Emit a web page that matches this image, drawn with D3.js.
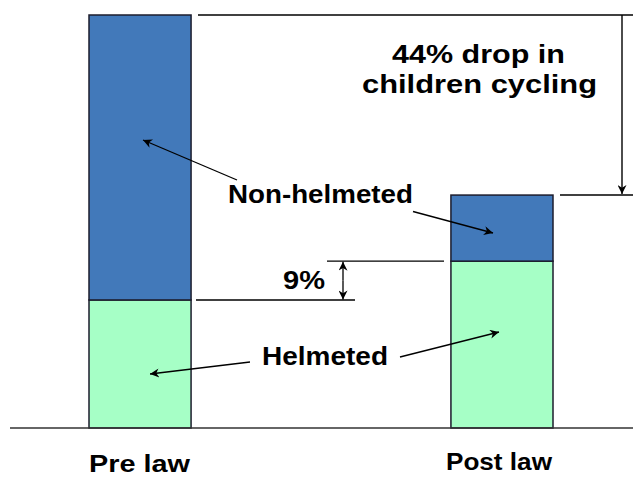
<!DOCTYPE html>
<html><head><meta charset="utf-8">
<script src="https://cdn.jsdelivr.net/npm/d3@7"></script>
<style>html,body{margin:0;padding:0;background:#fff;overflow:hidden}</style>
</head><body>
<svg id="c" width="633" height="477"></svg>
<script>
const categories = ["Pre law", "Post law"];
const helmeted = [31.0, 40.4];
const nonHelmeted = [69.0, 16.0];
const dropLabel = ["44% drop in", "children cycling"];
const diffLabel = "9%";

const svg = d3.select("#c");
const W = 633, H = 477;
const x = d3.scaleBand().domain(categories).range([89, 553]).paddingInner(0.718).paddingOuter(0);
const y = d3.scaleLinear().domain([0, 100]).range([428, 15]);

const defs = svg.append("defs");
defs.append("marker").attr("id","ah").attr("viewBox","0 0 10 10").attr("refX",10).attr("refY",5)
  .attr("markerWidth",11).attr("markerHeight",9).attr("markerUnits","userSpaceOnUse").attr("orient","auto")
  .append("path").attr("d","M0,0 L10,5 L0,10 L3,5 Z").attr("fill","#000");

const blue = "#4279ba", green = "#a6ffc6", edge = "#1c1c2c";

// stacked bars
const rows = categories.map((c,i)=>({c, h: helmeted[i], n: nonHelmeted[i]}));
const g = svg.append("g");
g.selectAll("rect.h").data(rows).join("rect").attr("class","h")
  .attr("x", d=>x(d.c)).attr("width", x.bandwidth())
  .attr("y", d=>y(d.h)).attr("height", d=>y(0)-y(d.h))
  .attr("fill", green).attr("stroke", edge).attr("stroke-width",1.5);
g.selectAll("rect.n").data(rows).join("rect").attr("class","n")
  .attr("x", d=>x(d.c)).attr("width", x.bandwidth())
  .attr("y", d=>y(d.h+d.n)).attr("height", d=>y(d.h)-y(d.h+d.n))
  .attr("fill", blue).attr("stroke", edge).attr("stroke-width",1.5);

// baseline
svg.append("line").attr("x1",10).attr("x2",W).attr("y1",y(0)).attr("y2",y(0))
  .attr("stroke","#333").attr("stroke-width",1.5);

// category labels
const font = "'Liberation Sans', Arial, sans-serif";
function txt(s, cx, by, len, size) {
  svg.append("text").attr("x", cx).attr("y", by).attr("text-anchor","middle")
    .attr("font-family", font).attr("font-weight","bold").attr("font-size", size||25)
    .attr("textLength", len).attr("lengthAdjust","spacingAndGlyphs").attr("fill","#000").text(s);
}
txt(categories[0], x(categories[0]) + x.bandwidth()/2 - 0.5, 472, 101, 24);
txt(categories[1], x(categories[1]) + x.bandwidth()/2 - 3, 470, 106, 24);

const ln = (x1,y1,x2,y2,arrow,sw) => {
  const l = svg.append("line").attr("x1",x1).attr("y1",y1).attr("x2",x2).attr("y2",y2)
    .attr("stroke","#000").attr("stroke-width",sw||1.4);
  if (arrow) l.attr("marker-end","url(#ah)");
  return l;
};

// 44% drop annotation
const preTop = y(helmeted[0]+nonHelmeted[0]);
const postTop = y(helmeted[1]+nonHelmeted[1]);
ln(198, preTop, W, preTop);
ln(560, postTop, W, postTop);
ln(622, preTop, 622, postTop - 1, true);
txt(dropLabel[0], 478.5, 63, 173);
txt(dropLabel[1], 479.5, 93, 235);

// 9% annotation
const preH = y(helmeted[0]), postH = y(helmeted[1]);
ln(196, preH, 355, preH);
ln(327, postH, 444, postH);
const va = (preH+postH)/2;
ln(343, va, 343, postH + 0.5, true, 1.3);
ln(343, va, 343, preH - 0.5, true, 1.3);
txt(diffLabel, 304, 289, 42);

// Non-helmeted label and arrows
txt("Non-helmeted", 320.5, 203, 185);
ln(237, 180, 143, 140, true, 1.3);
ln(413, 211.5, 493, 233, true, 1.3);

// Helmeted label and arrows
txt("Helmeted", 325, 365, 126);
ln(250, 362, 150, 374, true, 1.3);
ln(400, 357, 499, 332, true, 1.3);
</script>
</body></html>
